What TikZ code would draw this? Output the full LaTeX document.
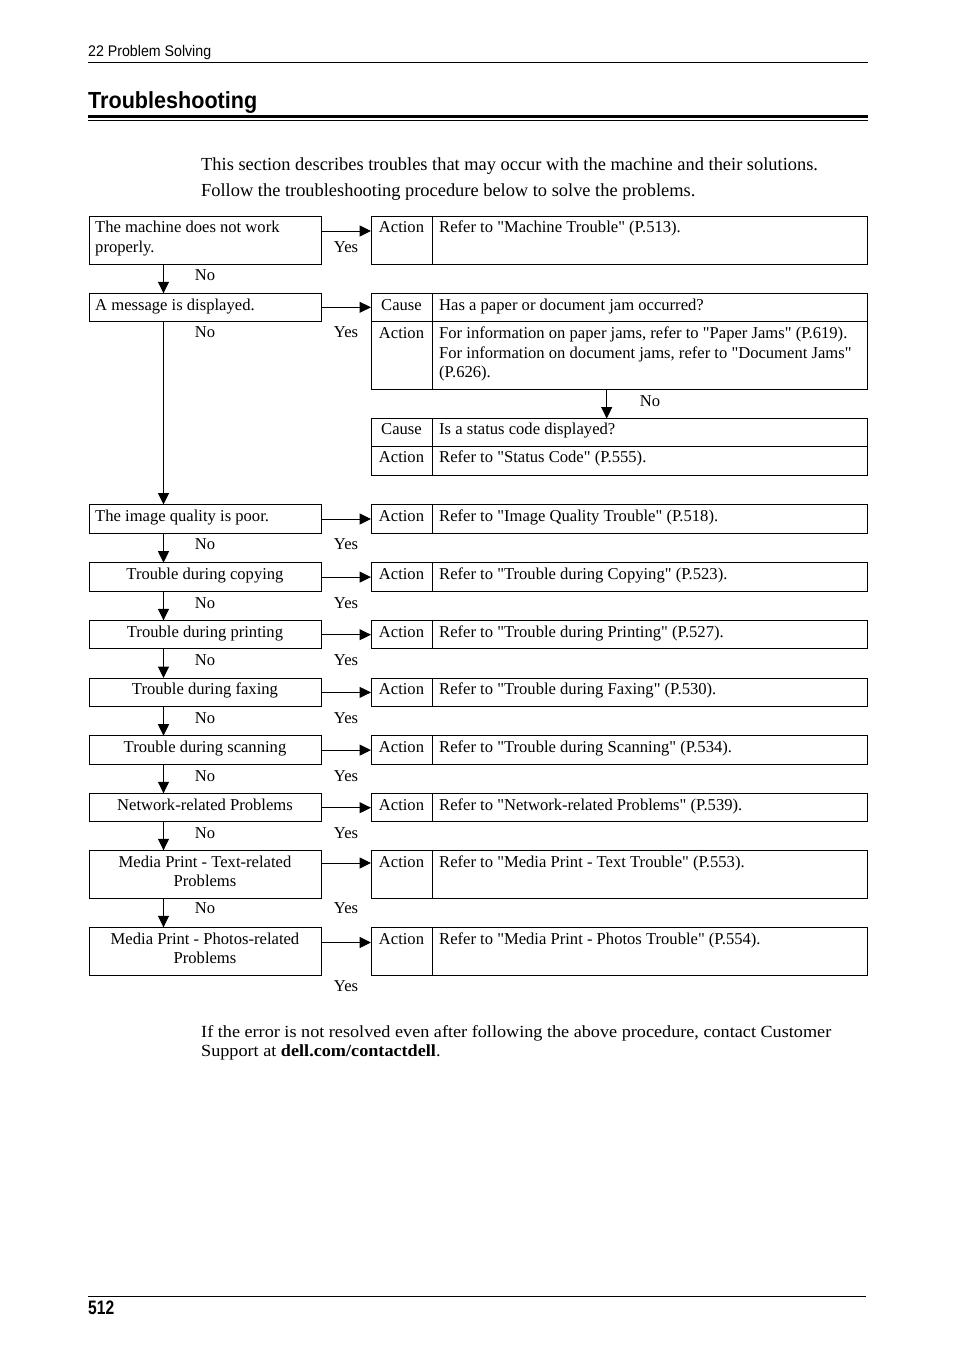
\documentclass[tikz,border=0pt]{standalone}
\usepackage{fontspec}
\usepackage{graphicx}
\setmainfont{Liberation Serif}[Ligatures=TeXOff]
\newfontfamily\headfont{Liberation Sans}
\usetikzlibrary{arrows.meta}
\newcommand\bxfont{\fontsize{16.6}{19.7}\selectfont}
\newcommand\introfont{\fontsize{18.4}{22}\selectfont}
\tikzset{
  frame/.style={draw, line width=1pt, inner sep=0pt, outer sep=0pt, anchor=north west},
  lbox/.style={frame, minimum width=232pt},
  cbox/.style={frame, minimum width=61pt},
  tbox/.style={frame, minimum width=435pt},
  ltxt/.style={anchor=base west, inner sep=0pt, font=\bxfont},
  ctxt/.style={anchor=base, inner sep=0pt, font=\bxfont},
  arr/.style={line width=1pt, -{Triangle[length=11.5pt,width=11pt]}},
  rulethin/.style={line width=1pt},
}
% name, top, height, right text, arrow offset
\newcommand\tsboxes[5]{%
  \node[lbox, minimum height=#3pt] (L#1) at (89,#2) {};
  \node[cbox, minimum height=#3pt] (C#1) at (371,#2) {};
  \node[tbox, minimum height=#3pt] (D#1) at (432,#2) {};
  \node[ctxt] (CA#1) at (401.5,#2+16.7) {Action};
  \node[ltxt] (DT#1) at (439,#2+16.7) {#4};
  \draw[arr] ([yshift=-#5pt]L#1.north east) -- ([yshift=-#5pt]C#1.north west);
}
\begin{document}
\begin{tikzpicture}[x=1pt,y=-1pt]
\fill[white] (0,0) rectangle (954,1350);
\useasboundingbox (0,0) rectangle (954,1350);

% header
\node[anchor=base west, inner sep=0pt] (hdr) at (88,56) {\resizebox{123pt}{\height}{\headfont\fontsize{15.4}{18}\selectfont 22 Problem Solving}};
\draw[rulethin] (88,62.3) -- (868,62.3);
\node[anchor=base west, inner sep=0pt] (ttl) at (88,108.3) {\resizebox{169pt}{\height}{\headfont\bfseries\fontsize{23.3}{28}\selectfont Troubleshooting}};
\draw[line width=3.5pt] (88,116.7) -- (868,116.7);
\draw[rulethin] (88,120.8) -- (868,120.8);

% intro
\node[anchor=base west, inner sep=0pt, font=\introfont] (in1) at (201,170) {This section describes troubles that may occur with the machine and their solutions.};
\node[anchor=base west, inner sep=0pt, font=\introfont] (in2) at (201,196.7) {Follow the troubleshooting procedure below to solve the problems.};

% row 1
\tsboxes{1}{216}{48}{Refer to "Machine Trouble" (P.513).}{15}
\node[ltxt] (LT1a) at (95,232.7) {The machine does not work};
\node[ltxt] (LT1b) at (95,252.4) {properly.};
\node[ctxt] (Y1) at (346,252.4) {Yes};
\node[ctxt] (N1) at (205,280.7) {No};

% row 2
\node[lbox, minimum height=28pt] (L2) at (89,293.3) {};
\node[cbox, minimum height=27.7pt] (C2) at (371,293.3) {};
\node[tbox, minimum height=27.7pt] (D2) at (432,293.3) {};
\node[cbox, minimum height=68pt] (C2b) at (371,321) {};
\node[tbox, minimum height=68pt] (D2b) at (432,321) {};
\node[ltxt] (LT2) at (95,310) {A message is displayed.};
\node[ctxt] (CC2) at (401.5,310) {Cause};
\node[ltxt] (DT2) at (439,310) {Has a paper or document jam occurred?};
\node[ctxt] (CA2) at (401.5,338.3) {Action};
\node[ltxt] (DT2a) at (439,338.3) {For information on paper jams, refer to "Paper Jams" (P.619).};
\node[ltxt] (DT2b) at (439,358) {For information on document jams, refer to "Document Jams"};
\node[ltxt] (DT2c) at (439,377.7) {(P.626).};
\node[ctxt] (N2) at (205,337.3) {No};
\node[ctxt] (Y2) at (346,337.3) {Yes};
\draw[arr] ([yshift=-14pt]L2.north east) -- ([yshift=-14pt]C2.north west);

% status code
\node[cbox, minimum height=28pt] (C2c) at (371,418.5) {};
\node[tbox, minimum height=28pt] (D2c) at (432,418.5) {};
\node[cbox, minimum height=28.5pt] (C2d) at (371,446.5) {};
\node[tbox, minimum height=28.5pt] (D2d) at (432,446.5) {};
\node[ctxt] (CC2c) at (401.5,434.5) {Cause};
\node[ltxt] (DT2cc) at (439,434.5) {Is a status code displayed?};
\node[ctxt] (CA2d) at (401.5,462.5) {Action};
\node[ltxt] (DT2d) at (439,462.5) {Refer to "Status Code" (P.555).};
\draw[arr] ([xshift=174.7pt]D2b.south west) -- ([xshift=174.7pt]D2c.north west);
\node[ctxt] (N2b) at (650,406) {No};

% row 3
\tsboxes{3}{504.5}{28.5}{Refer to "Image Quality Trouble" (P.518).}{14.5}
\node[ltxt] (LT3) at (95,521.2) {The image quality is poor.};
\node[ctxt] (N3) at (205,549.8) {No};
\node[ctxt] (Y3) at (346,549.8) {Yes};

% row 4
\tsboxes{4}{562.7}{28.5}{Refer to "Trouble during Copying" (P.523).}{14.4}
\node[ctxt] (LT4) at (205,579.4) {Trouble during copying};
\node[ctxt] (N4) at (205,608) {No};
\node[ctxt] (Y4) at (346,608) {Yes};

% row 5
\tsboxes{5}{620.3}{28.4}{Refer to "Trouble during Printing" (P.527).}{14.4}
\node[ctxt] (LT5) at (205,637) {Trouble during printing};
\node[ctxt] (N5) at (205,665.6) {No};
\node[ctxt] (Y5) at (346,665.6) {Yes};

% row 6
\tsboxes{6}{678}{28.4}{Refer to "Trouble during Faxing" (P.530).}{14.4}
\node[ctxt] (LT6) at (205,694.7) {Trouble during faxing};
\node[ctxt] (N6) at (205,723.3) {No};
\node[ctxt] (Y6) at (346,723.3) {Yes};

% row 7
\tsboxes{7}{735.7}{28.4}{Refer to "Trouble during Scanning" (P.534).}{14.4}
\node[ctxt] (LT7) at (205,752.4) {Trouble during scanning};
\node[ctxt] (N7) at (205,781) {No};
\node[ctxt] (Y7) at (346,781) {Yes};

% row 8
\tsboxes{8}{793.3}{28.4}{Refer to "Network-related Problems" (P.539).}{14.4}
\node[ctxt] (LT8) at (205,810) {Network-related Problems};
\node[ctxt] (N8) at (205,838.6) {No};
\node[ctxt] (Y8) at (346,838.6) {Yes};

% row 9
\tsboxes{9}{850.3}{48}{Refer to "Media Print - Text Trouble" (P.553).}{12.7}
\node[ctxt] (LT9a) at (205,867) {Media Print - Text-related};
\node[ctxt] (LT9b) at (205,886.7) {Problems};
\node[ctxt] (N9) at (205,913.5) {No};
\node[ctxt] (Y9) at (346,913.5) {Yes};

% row 10
\tsboxes{10}{927.3}{48}{Refer to "Media Print - Photos Trouble" (P.554).}{15.2}
\node[ctxt] (LT10a) at (205,944) {Media Print - Photos-related};
\node[ctxt] (LT10b) at (205,963.7) {Problems};
\node[ctxt] (Y10) at (346,991.5) {Yes};

% down arrows (No)
\draw[arr] ([xshift=-41.5pt]L1.south) -- ([xshift=-41.5pt]L2.north);
\draw[arr] ([xshift=-41.5pt]L2.south) -- ([xshift=-41.5pt]L3.north);
\draw[arr] ([xshift=-41.5pt]L3.south) -- ([xshift=-41.5pt]L4.north);
\draw[arr] ([xshift=-41.5pt]L4.south) -- ([xshift=-41.5pt]L5.north);
\draw[arr] ([xshift=-41.5pt]L5.south) -- ([xshift=-41.5pt]L6.north);
\draw[arr] ([xshift=-41.5pt]L6.south) -- ([xshift=-41.5pt]L7.north);
\draw[arr] ([xshift=-41.5pt]L7.south) -- ([xshift=-41.5pt]L8.north);
\draw[arr] ([xshift=-41.5pt]L8.south) -- ([xshift=-41.5pt]L9.north);
\draw[arr] ([xshift=-41.5pt]L9.south) -- ([xshift=-41.5pt]L10.north);

% footer text
\node[anchor=base west, inner sep=0pt] (ftr) at (201,1037) {\resizebox{630pt}{\height}{\fontsize{17}{19}\selectfont\begin{tabular}[t]{@{}l@{}}If the error is not resolved even after following the above procedure, contact Customer\\Support at \textbf{dell.com/contactdell}.\end{tabular}}};

% page footer
\draw[rulethin] (88,1296.3) -- (866,1296.3);
\node[anchor=base west, inner sep=0pt] (pg) at (88,1314) {\resizebox{26pt}{\height}{\headfont\bfseries\fontsize{19.5}{22}\selectfont 512}};
\end{tikzpicture}
\end{document}
